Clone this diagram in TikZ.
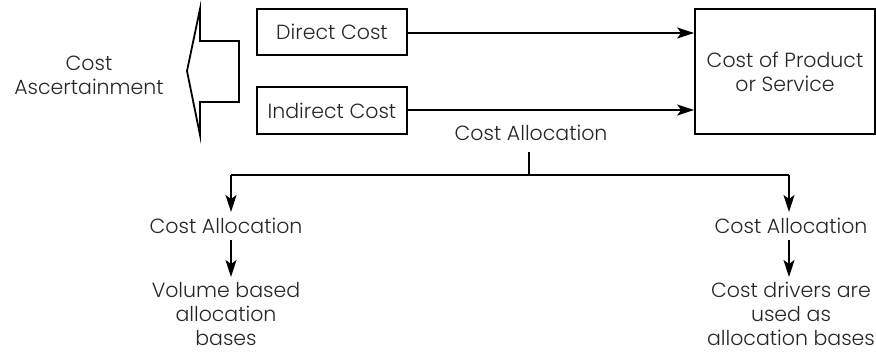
\documentclass[tikz,border=0pt]{standalone}
\usepackage{fontspec}
\setmainfont{Poppins Light}
\usetikzlibrary{arrows.meta}
\begin{document}
\begin{tikzpicture}[x=1pt,y=-1pt,
  box/.style={draw,line width=1.8pt,inner sep=0pt},
  lbl/.style={font=\fontsize{20.5}{24}\selectfont,align=center,inner sep=0pt,text=black!85},
  arr/.style={line width=1.5pt,-{Stealth[length=17pt,width=11pt,inset=4pt]}},
  ln/.style={line width=1.5pt}]
\useasboundingbox (0,0) rectangle (876,353);
% big left-pointing arrow
\draw[line width=1.8pt,line join=miter] (239,41) -- (200,41) -- (200,9) -- (187,71) -- (200,135) -- (200,102) -- (239,102) -- cycle;
\node[lbl] (asc) at (89,75) {Cost\\Ascertainment};
% boxes
\node[box,minimum width=150pt,minimum height=46pt,lbl] (dc) at (332,32) {Direct Cost};
\node[box,minimum width=150pt,minimum height=47pt,lbl,line width=2.2pt] (ic) at (332,110.5) {Indirect Cost};
\node[box,minimum width=180pt,minimum height=125pt,lbl] (cp) at (785,71.5) {Cost of Product\\or Service};
\draw[arr] (dc.east |- 0,33) -- (cp.west |- 0,33);
\draw[arr] (ic.east |- 0,110) -- (cp.west |- 0,110);
\node[lbl] (ca) at (531,133) {Cost Allocation};
\coordinate (j) at (529,175);
\coordinate (jl) at (231,175);
\coordinate (jr) at (789,175);
\draw[ln] (529,152) -- (j);
\node[lbl] (cal) at (226,226) {Cost Allocation};
\node[lbl] (car) at (791,226) {Cost Allocation};
\draw[ln] (jl) -- (jr);
\draw[arr] (jl) -- (231,212);
\draw[arr] (jr) -- (789,212);
\node[lbl] (vb) at (226,314) {Volume based\\allocation\\bases};
\node[lbl] (cd) at (791,314) {Cost drivers are\\used as\\allocation bases};
\draw[arr] (231,240) -- (231,277);
\draw[arr] (789,240) -- (789,277);
\end{tikzpicture}
\end{document}
